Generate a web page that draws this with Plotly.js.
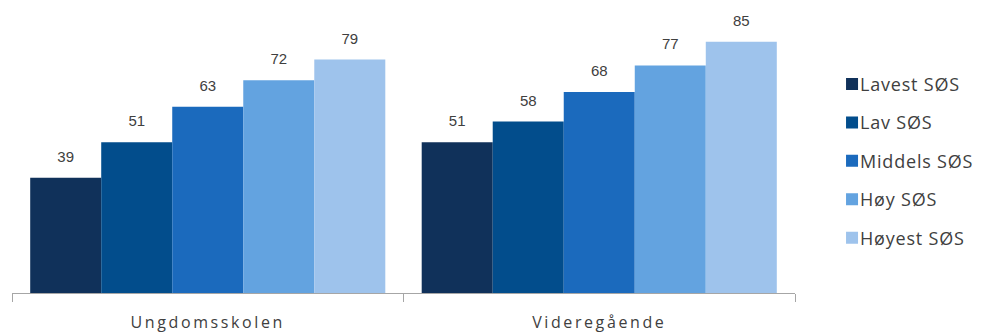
<!DOCTYPE html>
<html><head><meta charset="utf-8">
<script src="https://cdn.plot.ly/plotly-3.0.1.min.js"></script>
<style>
html,body{margin:0;padding:0;background:#fff}#chart{width:996px;height:333px}
#chart .xtick text{letter-spacing:2.6px}
#chart .legendtext{letter-spacing:0.8px;transform:translate(-12px,0)}
</style>
</head><body><div id="chart"></div>
<script>
const categories = ["Ungdomsskolen", "Videregående"];
const seriesNames = ["Lavest SØS", "Lav SØS", "Middels SØS", "Høy SØS", "Høyest SØS"];
const lavest = [39, 51];
const lav = [51, 58];
const middels = [63, 68];
const hoy = [72, 77];
const hoyest = [79, 85];
const seriesValues = [lavest, lav, middels, hoy, hoyest];
const colors = ["#10315a", "#024d8c", "#1b6abd", "#63a3e0", "#9ec3ec"];

const bars = seriesValues.map((vals, i) => ({
  type: 'bar', name: seriesNames[i], x: categories, y: vals,
  marker: {color: colors[i], line: {width: 0}},
  legendgroup: 'g' + i, hoverinfo: 'none'
}));
const labels = seriesValues.map((vals, i) => ({
  type: 'scatter', mode: 'markers+text', x: categories, y: vals,
  marker: {size: 18, opacity: 0, color: colors[i]},
  text: vals.map(String), textposition: 'top center',
  textfont: {size: 15, color: '#404040', family: 'Liberation Sans, Arial, sans-serif'},
  cliponaxis: false, showlegend: false, hoverinfo: 'none'
}));

const layout = {
  width: 996, height: 333,
  margin: {l: 12, r: 201, t: 27, b: 40},
  barmode: 'group', bargap: 0.093, bargroupgap: 0,
  scattermode: 'group', scattergap: 0.093,
  paper_bgcolor: '#fff', plot_bgcolor: '#fff',
  font: {family: 'Open Sans, sans-serif', color: '#404040'},
  xaxis: {
    showline: true, linecolor: '#a6a6a6', linewidth: 1,
    ticks: 'outside', tickson: 'boundaries', ticklen: 8, tickcolor: '#a6a6a6',
    tickfont: {size: 16, color: '#404040'}, ticklabelstandoff: 15,
    showgrid: false, zeroline: false
  },
  yaxis: {range: [0, 90], visible: false, showgrid: false, zeroline: false},
  showlegend: true,
  legend: {
    x: 1.0473, xanchor: 'left', y: 0.854, yanchor: 'top',
    traceorder: 'grouped', tracegroupgap: 12,
    font: {size: 18, color: '#404040'}, itemwidth: 30
  }
};
Plotly.newPlot('chart', bars.concat(labels), layout, {displayModeBar: false, staticPlot: true});
</script></body></html>
